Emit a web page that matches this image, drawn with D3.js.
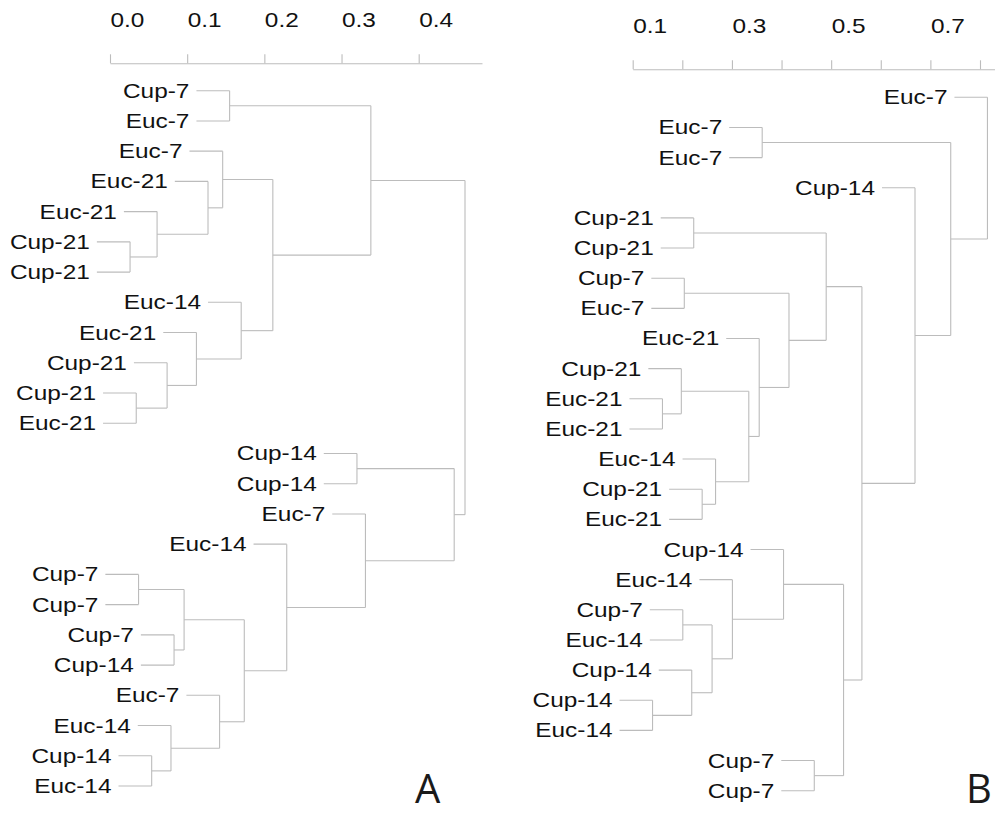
<!DOCTYPE html>
<html>
<head>
<meta charset="utf-8">
<script src="https://cdn.jsdelivr.net/npm/d3@7"></script>
<style>
  body { margin: 0; background: #fff; }
  svg { display: block; }
  .branch { stroke: #bcbcbc; stroke-width: 1.1; fill: none; }
  .axis path, .axis line { stroke: #bcbcbc; stroke-width: 1.1; }
  .axis text, .leaf { font-family: "Liberation Sans", Arial, sans-serif; font-size: 20px; fill: #111; }
  .panel-letter { font-family: "Open Sans", sans-serif; font-size: 40px; fill: #1a1a1a; }
</style>
</head>
<body>
<svg id="chart" width="995" height="816"></svg>
<script>
// panel A: leaves top to bottom, merges like hclust (negative = leaf, positive = earlier merge), height
var leavesA = ["Cup-7", "Euc-7", "Euc-7", "Euc-21", "Euc-21", "Cup-21", "Cup-21", "Euc-14",
               "Euc-21", "Cup-21", "Cup-21", "Euc-21", "Cup-14", "Cup-14", "Euc-7", "Euc-14",
               "Cup-7", "Cup-7", "Cup-7", "Cup-14", "Euc-7", "Euc-14", "Cup-14", "Euc-14"];
var mergesA = [
  [-6, -7, 0.026], [-11, -12, 0.034], [-17, -18, 0.037], [-23, -24, 0.054],
  [-5, 1, 0.061], [-10, 2, 0.074], [-22, 4, 0.079], [-19, -20, 0.083],
  [3, 8, 0.096], [-9, 6, 0.112], [-4, 5, 0.127], [-21, 7, 0.142],
  [-3, 11, 0.146], [-1, -2, 0.155], [-8, 10, 0.170], [9, 12, 0.174],
  [13, 15, 0.211], [-16, 16, 0.229], [-13, -14, 0.320], [-15, 18, 0.331],
  [14, 17, 0.338], [19, 20, 0.446], [21, 22, 0.460]
];
var hangA = 0.043;
var ticksA = [0.0, 0.1, 0.2, 0.3, 0.4];

// panel B
var leavesB = ["Euc-7", "Euc-7", "Euc-7", "Cup-14", "Cup-21", "Cup-21", "Cup-7", "Euc-7",
               "Euc-21", "Cup-21", "Euc-21", "Euc-21", "Euc-14", "Cup-21", "Euc-21", "Cup-14",
               "Euc-14", "Cup-7", "Euc-14", "Cup-14", "Cup-14", "Euc-14", "Cup-7", "Cup-7"];
var mergesB = [
  [-21, -22, 0.140], [-11, -12, 0.160], [-10, 2, 0.198], [-18, -19, 0.201],
  [-7, -8, 0.204], [-20, 1, 0.219], [-5, -6, 0.223], [-14, -15, 0.240],
  [4, 6, 0.260], [-13, 8, 0.267], [-17, 9, 0.301], [3, 10, 0.334],
  [-9, 12, 0.355], [-2, -3, 0.361], [-16, 11, 0.404], [5, 13, 0.415],
  [-23, -24, 0.466], [7, 16, 0.490], [15, 17, 0.525], [18, 19, 0.562],
  [-4, 20, 0.669], [14, 21, 0.741], [-1, 22, 0.815]
];
var hangB = 0.0665;
var ticksB = [0.1, 0.2, 0.3, 0.4, 0.5, 0.6, 0.7, 0.8];
var labelledB = [0.1, 0.3, 0.5, 0.7];

var svg = d3.select("#chart");
var stretch = 1.22; // the original text is wider than Arial

function drawTree(leaves, merges, hang, x, y) {
  var g = svg.append("g");
  var nodes = [], segs = [], leafX = [];

  var pos = function(ref, h) {
    if (ref < 0) {
      var i = -ref - 1;
      leafX[i] = x(h - hang);
      return { x: leafX[i], y: y(i) };
    }
    return nodes[ref - 1];
  };

  merges.forEach(function(m) {
    var a = pos(m[0], m[2]), b = pos(m[1], m[2]), nx = x(m[2]);
    segs.push([a.x, a.y, nx, a.y]);
    segs.push([b.x, b.y, nx, b.y]);
    segs.push([nx, a.y, nx, b.y]);
    nodes.push({ x: nx, y: (a.y + b.y) / 2 });
  });

  g.selectAll(".branch")
    .data(segs)
    .enter().append("line")
    .attr("class", "branch")
    .attr("x1", function(d) { return d[0]; })
    .attr("y1", function(d) { return d[1]; })
    .attr("x2", function(d) { return d[2]; })
    .attr("y2", function(d) { return d[3]; });

  g.selectAll(".leaf")
    .data(leaves)
    .enter().append("text")
    .attr("class", "leaf")
    .attr("text-anchor", "end")
    .attr("transform", function(d, i) {
      return "translate(" + (leafX[i] - 7) + "," + (y(i) + 7) + ") scale(" + stretch + ",1)";
    })
    .text(function(d) { return d; });
}

function drawAxis(x, axisY, ticks, fmt) {
  var axis = d3.axisTop(x)
    .tickValues(ticks)
    .tickSize(9)
    .tickSizeOuter(0)
    .tickPadding(27.5)
    .tickFormat(fmt);
  var ax = svg.append("g")
    .attr("class", "axis")
    .attr("transform", "translate(0," + axisY + ")")
    .call(axis);
  ax.selectAll("text")
    .attr("text-anchor", "start")
    .attr("transform", "scale(" + stretch + ",1)");
}

// ---- A ----
var xA = d3.scaleLinear().domain([0, 0.4]).range([110, 418.7]);
var yA = d3.scaleLinear().domain([0, leavesA.length - 1]).range([90.7, 786]);
var xAxisA = xA.copy().domain([0, 0.482]).range([xA(0), xA(0.482)]);
drawAxis(xAxisA, 63.3, ticksA, d3.format(".1f"));
drawTree(leavesA, mergesA, hangA, xA, yA);

// ---- B ----
var xB = d3.scaleLinear().domain([0.1, 0.8]).range([632.7, 980]);
var yB = d3.scaleLinear().domain([0, leavesB.length - 1]).range([97.3, 790.7]);
var xAxisB = xB.copy().domain([0.1, xB.invert(1000)]).range([xB(0.1), 1000]);
drawAxis(xAxisB, 69.3, ticksB, function(d) {
  return labelledB.some(function(v) { return Math.abs(v - d) < 1e-9; }) ? d3.format(".1f")(d) : "";
});
drawTree(leavesB, mergesB, hangB, xB, yB);

// panel letters
svg.append("text").attr("class", "panel-letter").attr("x", 415).attr("y", 803).text("A");
svg.append("text").attr("class", "panel-letter").attr("x", 966).attr("y", 803).text("B");
</script>
</body>
</html>
